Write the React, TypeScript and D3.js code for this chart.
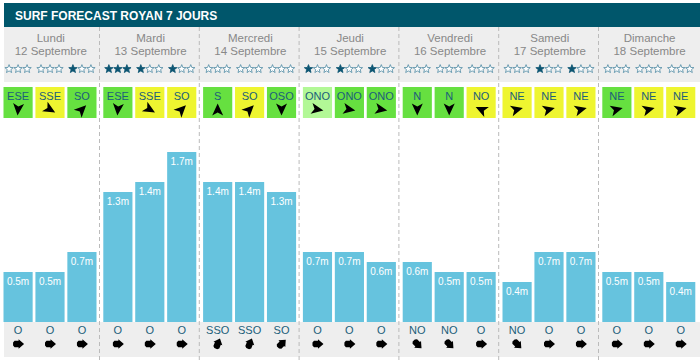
import React from "react";
import * as d3 from "d3";

const days = ["Lundi", "Mardi", "Mercredi", "Jeudi", "Vendredi", "Samedi", "Dimanche"];
const dates = ["12 Septembre", "13 Septembre", "14 Septembre", "15 Septembre", "16 Septembre", "17 Septembre", "18 Septembre"];
const stars = [[0, 0, 1], [3, 1, 1], [0, 0, 0], [1, 1, 1], [0, 0, 0], [0, 1, 1], [0, 0, 0]];
const windDir = [
  ["ESE", "SSE", "SO"], ["ESE", "SSE", "SO"], ["S", "SO", "OSO"], ["ONO", "ONO", "ONO"],
  ["N", "N", "NO"], ["NE", "NE", "NE"], ["NE", "NE", "NE"],
];
// 0 = light green, 1 = green, 2 = yellow
const windLevel = [[1, 2, 1], [1, 2, 2], [1, 2, 1], [0, 1, 1], [1, 1, 2], [2, 2, 2], [1, 2, 2]];
const windAngle = [
  [185, 120, 45], [185, 120, 45], [0, 45, 180], [100, 100, 100],
  [180, 180, 295], [75, 75, 75], [75, 75, 75],
];
const swellHeight = [
  [0.5, 0.5, 0.7], [1.3, 1.4, 1.7], [1.4, 1.4, 1.3], [0.7, 0.7, 0.6],
  [0.6, 0.5, 0.5], [0.4, 0.7, 0.7], [0.5, 0.5, 0.4],
];
const swellDir = [
  ["O", "O", "O"], ["O", "O", "O"], ["SSO", "SSO", "SO"], ["O", "O", "O"],
  ["NO", "NO", "O"], ["NO", "O", "O"], ["O", "O", "O"],
];
const dirDeg: Record<string, number> = { O: 90, SSO: 22.5, SO: 45, NO: 135 };

const levelColor = ["#b2f896", "#66e040", "#eef530"];
const FONT = "'Liberation Sans', Arial, sans-serif";

function starPath(r1: number, r2: number) {
  const pts: [number, number][] = [];
  for (let i = 0; i < 10; i++) {
    const r = i % 2 === 0 ? r1 : r2;
    const a = (Math.PI / 5) * i - Math.PI / 2;
    pts.push([r * Math.cos(a), r * Math.sin(a)]);
  }
  return d3.line()(pts) + "Z";
}
const STAR = starPath(4.4, 1.9);
const WIND_ARROW = "M0,-6 L5.5,6 L0,3 L-5.5,6 Z";
const SWELL_ARROW = "M0,-6 L4.8,-0.5 L3.2,-0.5 L3.2,3.5 L1.5,5 L-1.5,5 L-3.2,3.5 L-3.2,-0.5 L-4.8,-0.5 Z";

export default function App() {
  const W = 700, H = 361;
  const x = d3.scaleBand<number>().domain(d3.range(7)).range([0, 698.6]);
  const inner = d3.scaleBand<number>().domain([0, 1, 2]).range([3.5, 96.5]).paddingInner(0.087);
  const y = d3.scaleLinear().domain([0, 1]).range([322, 222]);
  const bw = inner.bandwidth();

  return (
    <svg width={W} height={H} style={{ position: "absolute", left: 0, top: 0 }} fontFamily={FONT}>
      <rect x={0} y={0} width={W} height={H} fill="#fff" />
      <rect x={4} y={3} width={696} height={24} fill="#00566b" />
      <text x={15} y={20} fill="#fff" fontSize={12} fontWeight="bold">SURF FORECAST ROYAN 7 JOURS</text>
      <rect x={4} y={27} width={696} height={55} fill="#eeeeee" />
      <rect x={4} y={322} width={696} height={35} fill="#eeeeee" />
      {d3.range(1, 7).map((d) => (
        <line key={"div" + d} x1={x(d)! - 0.3} x2={x(d)! - 0.3} y1={27} y2={H}
          stroke="#bbbbbb" strokeWidth={1} strokeDasharray="4,3" />
      ))}
      {days.map((day, d) => {
        const x0 = x(d)!;
        const cx = x0 + 50.8;
        return (
          <g key={day}>
            <text x={cx} y={41.5} textAnchor="middle" fill="#888" fontSize={11.5}>{day}</text>
            <text x={cx} y={54.5} textAnchor="middle" fill="#888" fontSize={11.5}>{dates[d]}</text>
            {[0, 1, 2].map((i) => {
              const bx = x0 + inner(i)!;
              const bc = bx + bw / 2;
              const h = swellHeight[d][i];
              return (
                <g key={i}>
                  {[0, 1, 2].map((s) => (
                    <path key={s} d={STAR} transform={`translate(${bc + (s - 1) * 9},69)`}
                      fill={s < stars[d][i] ? "#0d5572" : "#fff"}
                      stroke={s < stars[d][i] ? "#0d5572" : "#4f8aa3"} strokeWidth={0.8} />
                  ))}
                  <rect x={bx} y={87} width={bw} height={31} fill={levelColor[windLevel[d][i]]} />
                  <text x={bc} y={100} textAnchor="middle" fill="#1b5e7a" fontSize={11}>{windDir[d][i]}</text>
                  <path d={WIND_ARROW} transform={`translate(${bc},109.5) rotate(${windAngle[d][i]})`} fill="#000" />
                  <rect x={bx} y={y(h)} width={bw} height={y(0) - y(h)} fill="#66c3de" />
                  <text x={bc} y={y(h) + 12.5} textAnchor="middle" fill="#fff" fontSize={10}>{h.toFixed(1) + "m"}</text>
                  <text x={bc} y={334} textAnchor="middle" fill="#1b5e7a" fontSize={11}>{swellDir[d][i]}</text>
                  <path d={SWELL_ARROW} transform={`translate(${bc},344) rotate(${dirDeg[swellDir[d][i]]})`} fill="#000" />
                </g>
              );
            })}
          </g>
        );
      })}
    </svg>
  );
}
